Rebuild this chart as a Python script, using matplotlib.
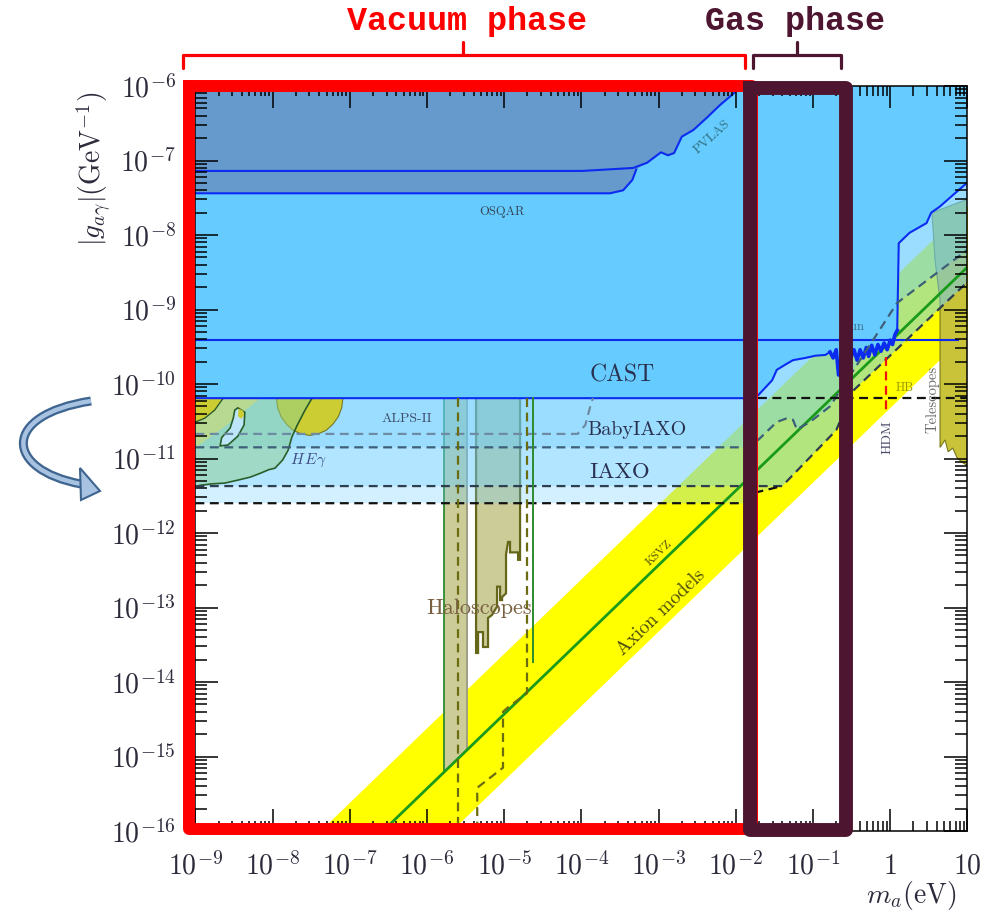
import numpy as np
import matplotlib
matplotlib.use("Agg")
import matplotlib.pyplot as plt
from matplotlib.path import Path
from matplotlib.patches import PathPatch, Polygon
from matplotlib.transforms import blended_transform_factory
from matplotlib.ticker import FixedLocator, FixedFormatter, LogLocator, NullFormatter

plt.rcParams["mathtext.fontset"] = "cm"

# every curve below is stored as log10(m_a / eV) and log10(|g| / GeV^-1)
x_ticks = [1e-9, 1e-8, 1e-7, 1e-6, 1e-5, 1e-4, 1e-3, 1e-2, 1e-1, 1, 10]
x_tick_labels = [r"$10^{-9}$", r"$10^{-8}$", r"$10^{-7}$", r"$10^{-6}$", r"$10^{-5}$",
                 r"$10^{-4}$", r"$10^{-3}$", r"$10^{-2}$", r"$10^{-1}$", r"$1$", r"$10$"]
y_ticks = [1e-16, 1e-15, 1e-14, 1e-13, 1e-12, 1e-11, 1e-10, 1e-9, 1e-8, 1e-7, 1e-6]
y_tick_labels = [r"$10^{-16}$", r"$10^{-15}$", r"$10^{-14}$", r"$10^{-13}$", r"$10^{-12}$",
                 r"$10^{-11}$", r"$10^{-10}$", r"$10^{-9}$", r"$10^{-8}$", r"$10^{-7}$",
                 r"$10^{-6}$"]

# light shining through walls
pvlas_lm = [-9.0, -3.99, -3.33, -3.15, -2.97, -2.88, -2.80, -2.70, -2.55, -2.37, -2.21, -2.04, -1.93]
pvlas_lg = [-7.14, -7.14, -7.10, -7.03, -6.89, -6.93, -6.90, -6.68, -6.59, -6.42, -6.26, -6.11, -6.0]
osqar_lm = [-9.0, -3.63, -3.46, -3.34, -3.29]
osqar_lg = [-7.44, -7.44, -7.40, -7.26, -7.12]

# CAST helioscope limit (vacuum + gas phase)
cast_lm = [-9.0, -1.88, -1.71, -1.62, -1.53, -1.47, -1.36, -1.26, -1.10, -0.97, -0.84, -0.78,
           -0.74, -0.70, -0.67, -0.62, -0.59, -0.55, -0.51, -0.47, -0.43, -0.39, -0.35, -0.31,
           -0.28, -0.24, -0.20, -0.16, -0.12, -0.08, -0.04, 0.0, 0.03, 0.06, 0.09, 0.11, 0.25,
           0.47, 0.53, 0.64, 0.86, 1.05]
cast_lg = [-10.19, -10.19, -10.15, -10.05, -9.95, -9.81, -9.74, -9.68, -9.65, -9.62, -9.61, -9.57,
           -9.65, -9.54, -9.88, -9.56, -9.68, -9.57, -9.65, -9.54, -9.68, -9.54, -9.65, -9.51,
           -9.63, -9.48, -9.61, -9.47, -9.56, -9.45, -9.54, -9.41, -9.47, -9.34, -9.28, -8.11,
           -7.97, -7.84, -7.70, -7.62, -7.42, -7.25]
sun_lm = [-9.0, 0.88]
sun_lg = [-9.41, -9.41]

# future helioscopes / ALPS-II sensitivity
alps_lm = [-9.0, -4.05, -3.95, -3.88, -3.85]
alps_lg = [-10.67, -10.67, -10.55, -10.28, -10.19]
babyiaxo_lm = [-9.0, -1.88, -1.71, -1.47, -1.34, -1.26, -1.21, -1.04, -0.78, 0.09, 1.05]
babyiaxo_lg = [-10.85, -10.85, -10.75, -10.51, -10.46, -10.48, -10.61, -10.51, -10.30, -8.91, -8.16]
iaxo_lm = [-9.0, -1.40, -0.70, -0.48, 1.05]
iaxo_lg = [-11.37, -11.37, -10.62, -10.09, -8.58]
iaxo_plus_lm = [-9.0, -1.88, -1.72, -1.40]
iaxo_plus_lg = [-11.60, -11.60, -11.45, -11.37]

# QCD axion band and KSVZ line
band_lm = [-9.0, 1.05]
band_upper_lg = [-17.61, -7.56]
band_lower_lg = [-19.31, -9.26]
ksvz_lm = [-9.0, 1.05]
ksvz_lg = [-18.43, -8.38]

# haloscopes
halo1_lm = [-5.78, -5.78, -5.48, -5.48]
halo1_lg = [-10.1, -15.21, -14.91, -10.1]
halo2_lm = [-5.365, -5.365, -5.339, -5.339, -5.275, -5.275, -5.21, -5.21, -5.158, -5.119, -5.093,
            -5.093, -5.054, -5.054, -5.028, -5.028, -4.977, -4.977, -4.951, -4.925, -4.925,
            -4.821, -4.821, -4.795, -4.795]
halo2_lg = [-10.1, -13.61, -13.61, -13.33, -13.33, -13.53, -13.53, -13.14, -13.10, -13.03, -12.99,
            -12.72, -12.72, -12.90, -12.90, -12.86, -12.81, -12.29, -12.12, -12.12, -12.26,
            -12.26, -12.36, -12.36, -10.1]
halo3_lm = [-4.63, -4.63]
halo3_lg = [-10.19, -13.73]
halo_dash1_lm = [-5.6, -5.6]
halo_dash1_lg = [-10.19, -16.0]
halo_dash2_lm = [-4.705, -4.705, -4.95, -5.016, -5.016, -5.35, -5.35]
halo_dash2_lg = [-10.19, -14.15, -14.34, -14.40, -15.15, -15.42, -16.0]

# astrophysics: HE gamma, telescopes, HB, HDM
hegamma_lm = [-7.45, -7.49, -7.58, -7.68, -7.75, -7.80, -7.87, -7.97, -8.05, -8.14, -8.29,
              -8.45, -8.62, -8.78, -8.94, -9.0, -9.0]
hegamma_lg = [-10.1, -10.19, -10.35, -10.55, -10.71, -10.89, -11.02, -11.13, -11.15, -11.19,
              -11.25, -11.29, -11.33, -11.34, -11.36, -11.34, -10.1]
hegreen_lm = [-8.16, -8.16, -8.29, -8.42, -8.58, -8.75, -8.90, -9.0, -9.0]
hegreen_lg = [-10.1, -10.19, -10.30, -10.40, -10.54, -10.67, -10.78, -10.85, -10.1]
heblob_lm = [-8.64, -8.64, -8.75, -8.88, -9.0, -9.0]
heblob_lg = [-10.1, -10.19, -10.35, -10.46, -10.51, -10.1]
heloop_lm = [-8.45, -8.36, -8.37, -8.45, -8.58, -8.68, -8.66, -8.55, -8.51, -8.49, -8.45]
heloop_lg = [-10.32, -10.38, -10.55, -10.70, -10.82, -10.83, -10.72, -10.59, -10.46, -10.35, -10.32]
hedot_lm = [-8.44, -8.38, -8.37, -8.41, -8.45]
hedot_lg = [-10.33, -10.36, -10.42, -10.47, -10.43]
hecircle_lm = [-7.95, -7.95, -7.935, -7.89, -7.82, -7.735, -7.63, -7.52, -7.41, -7.305, -7.22,
               -7.15, -7.105, -7.09, -7.09]
hecircle_lg = [-10.1, -10.19, -10.32, -10.44, -10.54, -10.62, -10.67, -10.69, -10.67, -10.62,
               -10.54, -10.44, -10.32, -10.19, -10.1]
telescope_lm = [0.54, 0.58, 0.645, 0.645, 0.71, 0.75, 0.81, 0.865, 0.93, 0.99, 1.05, 1.05]
telescope_lg = [-7.70, -8.34, -8.87, -10.85, -10.75, -10.91, -10.86, -10.99, -11.05, -11.09,
                -11.1, -7.5]
hb_lm = [-1.71, 1.05]
hb_lg = [-10.19, -10.19]
hdm_lm = [-0.054, -0.054]
hdm_lg = [-9.64, -10.35]

# phase boxes (mass range) and bracket ends
vacuum_box = [-9.08, -1.79]
gas_box = [-1.815, -0.573]
vacuum_bracket = [-9.16, -5.53, -1.88]
gas_bracket = [-1.78, -1.21, -0.64]

BLUE = "#0b2cf0"
LAYER = "#66ccff"


def lg10(lm, lg):
    return 10.0 ** np.asarray(lm, dtype=float), 10.0 ** np.asarray(lg, dtype=float)


def fill(lm, lg, **kw):
    x, y = lg10(lm, lg)
    ax.fill(x, y, **kw)


def line(lm, lg, **kw):
    x, y = lg10(lm, lg)
    ax.plot(x, y, **kw)


fig = plt.figure(figsize=(9.94, 9.15), dpi=100)
ax = fig.add_axes([0.1966, 0.0918, 0.7767, 0.8142])
ax.set_xscale("log")
ax.set_yscale("log")
ax.set_xlim(1e-9, 10)
ax.set_ylim(1e-16, 1e-6)

# axion band
bx, bu = lg10(band_lm, band_upper_lg)
_, bl = lg10(band_lm, band_lower_lg)
ax.fill_between(bx, bl, bu, color="#ffff00", lw=0, zorder=1)

# haloscopes and telescopes sit under the translucent prospects
fill(halo1_lm, halo1_lg, facecolor="#cccc99", edgecolor="none", zorder=1.2)
line(halo1_lm[:2], halo1_lg[:2], color="#2e8b2e", lw=1.3, zorder=1.3)
line(halo1_lm[2:], halo1_lg[2:], color="#9a9a80", lw=1.3, zorder=1.3)
fill(halo2_lm, halo2_lg, facecolor="#cccc99", edgecolor="#66661a", lw=1.6, zorder=1.2)
fill(telescope_lm, telescope_lg, facecolor="#c9c33a", edgecolor="#77771a", lw=0.8, zorder=1.2)

# IAXO, BabyIAXO, IAXO+ sensitivity layers
for lm, lg in [(babyiaxo_lm, babyiaxo_lg), (iaxo_lm, iaxo_lg),
               (iaxo_plus_lm + iaxo_lm[2:], iaxo_plus_lg + iaxo_lg[2:])]:
    fill(lm + [1.05, -9.0], lg + [-5.9, -5.9], facecolor=LAYER, alpha=0.29, lw=0, zorder=2)

# high-energy gamma hints
fill(hecircle_lm, hecircle_lg, facecolor="#cccc33", edgecolor="#77771f", lw=0.8, zorder=2.2)
fill(hegamma_lm, hegamma_lg, facecolor="#8fd08f", alpha=0.5, lw=0, zorder=2.3)
line(hegamma_lm[1:15], hegamma_lg[1:15], color="#2a5e2a", lw=1.2, zorder=2.4)
fill(hegreen_lm, hegreen_lg, facecolor="#c2da86", alpha=0.8, lw=0, zorder=2.35)
fill(heblob_lm, heblob_lg, facecolor="#cccc33", lw=0, zorder=2.4)
line(heblob_lm[1:5], heblob_lg[1:5], color="#2a5e2a", lw=1.0, zorder=2.45)
fill(heloop_lm, heloop_lg, facecolor="#bde6fa", edgecolor="#2a5e2a", lw=1.2, zorder=2.4)
fill(hedot_lm, hedot_lg, facecolor="#cccc33", lw=0, zorder=2.45)

line(ksvz_lm, ksvz_lg, color="#1a9a1a", lw=2.0, zorder=2.6)

# CAST and LSW exclusions
fill(cast_lm + [1.05, -9.0], cast_lg + [-5.9, -5.9], facecolor="#66ccff", lw=0, zorder=3)
fill(osqar_lm + pvlas_lm[3:] + [-1.93, -9.0], osqar_lg + pvlas_lg[3:] + [-5.9, -5.9],
     facecolor="#6699cc", lw=0, zorder=3.5)
line(cast_lm, cast_lg, color=BLUE, lw=1.5, zorder=4)
line(cast_lm[11:35], cast_lg[11:35], color=BLUE, lw=2.6, zorder=4)
line(sun_lm, sun_lg, color=BLUE, lw=1.5, zorder=4)
line(pvlas_lm, pvlas_lg, color=BLUE, lw=1.5, zorder=4)
line(osqar_lm, osqar_lg, color=BLUE, lw=1.5, zorder=4)

# dashed outlines
dash = dict(ls=(0, (4, 2.5)), lw=1.6, zorder=4)
line(alps_lm, alps_lg, color="#6d8ca3", **dash)
line(babyiaxo_lm, babyiaxo_lg, color="#3e5f78", **dash)
line(iaxo_lm, iaxo_lg, color="#2e3e4e", **dash)
line(iaxo_plus_lm, iaxo_plus_lg, color="#111111", **dash)
line(hb_lm, hb_lg, color="#111111", **dash)
line(hdm_lm, hdm_lg, color="#ee1111", **dash)
line(halo_dash1_lm, halo_dash1_lg, color="#6b6b10", **dash)
line(halo_dash2_lm, halo_dash2_lg, color="#6b6b10", **dash)
line(halo3_lm, halo3_lg, color="#2e8b2e", lw=1.4, zorder=4)

# labels
cm = dict(family="cmr10", ha="center", va="center", zorder=6)
ax.text(10**-3.47, 10**-9.89, "CAST", fontsize=17, color="#2a3050", **cm)
ax.text(10**-3.28, 10**-10.62, "BabyIAXO", fontsize=14.5, color="#2a3050", **cm)
ax.text(10**-3.50, 10**-11.19, "IAXO", fontsize=16.5, color="#2a3050", **cm)
ax.text(10**-5.03, 10**-7.69, "OSQAR", fontsize=9, color="#334455", **cm)
ax.text(10**-2.31, 10**-6.68, "PVLAS", fontsize=9.5, color="#2f6f80", rotation=42, **cm)
ax.text(10**-6.26, 10**-10.47, "ALPS-II", fontsize=10, color="#3d4f6a", **cm)
ax.text(10**-7.54, 10**-11.02, r"$H\,E\gamma$", fontsize=11, color="#3d4a80",
        ha="center", va="center", zorder=6)
ax.text(10**-5.33, 10**-13.01, "Haloscopes", fontsize=16, color="#7a6040", **cm)
ax.text(10**-3.0, 10**-12.27, "KSVZ", fontsize=8.5, color="#4a4a10", rotation=44, **cm)
ax.text(10**-2.97, 10**-13.06, "Axion models", fontsize=14, color="#4a4a10", rotation=44, **cm)
ax.text(10**-0.47, 10**-9.23, "Sun", fontsize=9, color="#3a6a80", **cm)
ax.text(10**0.19, 10**-10.05, "HB", fontsize=9, color="#999900", **cm)
ax.text(10**-0.04, 10**-10.71, "HDM", fontsize=10, color="#4a4a6a", rotation=90, **cm)
ax.text(10**0.54, 10**-10.21, "Telescopes", fontsize=10.5, color="#6a6a6a", rotation=90, **cm)

# axes styling
ax.xaxis.set_major_locator(FixedLocator(x_ticks))
ax.xaxis.set_major_formatter(FixedFormatter(x_tick_labels))
ax.yaxis.set_major_locator(FixedLocator(y_ticks))
ax.yaxis.set_major_formatter(FixedFormatter(y_tick_labels))
for axis in (ax.xaxis, ax.yaxis):
    axis.set_minor_locator(LogLocator(base=10, subs=np.arange(2, 10), numticks=100))
    axis.set_minor_formatter(NullFormatter())
    axis.set_zorder(8)
ax.tick_params(which="both", direction="in", top=True, right=True, width=1.1,
               color="black", labelcolor="#2b2b3b", labelsize=20)
ax.tick_params(axis="x", which="major", length=16, pad=15)
ax.tick_params(axis="x", which="minor", length=7)
ax.tick_params(axis="y", which="major", length=16.5, pad=14)
ax.tick_params(axis="y", which="minor", length=8.5)
for s in ax.spines.values():
    s.set_linewidth(1.1)
    s.set_zorder(8)

ax.set_ylabel(r"$|g_{a\gamma}|(\mathrm{GeV}^{-1})$", fontsize=20, color="#2b2b3b")
ax.yaxis.set_label_coords(-0.106, 0.889)
ax.set_xlabel(r"$m_a(\mathrm{eV})$", fontsize=20, color="#2b2b3b")
ax.xaxis.set_label_coords(0.927, -0.064)

# phase boxes, brackets and titles
tr = blended_transform_factory(ax.transData, ax.transAxes)
vx = [10**vacuum_box[0], 10**vacuum_box[1], 10**vacuum_box[1], 10**vacuum_box[0], 10**vacuum_box[0]]
ax.plot(vx, [1.0, 1.0, 0.003, 0.003, 1.0], transform=tr, color="#ff0000", lw=8.6,
        solid_joinstyle="round", clip_on=False, zorder=10)
gx = [10**gas_box[0], 10**gas_box[1], 10**gas_box[1], 10**gas_box[0], 10**gas_box[0]]
ax.plot(gx, [0.997, 0.997, 0.001, 0.001, 0.997], transform=tr, color="#4d1530", lw=10,
        solid_joinstyle="round", clip_on=False, zorder=11)

for br, col in [(vacuum_bracket, "#ff0000"), (gas_bracket, "#4d1530")]:
    left, mid, right = [10**v for v in br]
    ax.plot([left, left, right, right], [1.024, 1.0416, 1.0416, 1.024], transform=tr,
            color=col, lw=2.3, solid_joinstyle="round", solid_capstyle="round",
            clip_on=False, zorder=10)
    ax.plot([mid, mid], [1.0416, 1.059], transform=tr, color=col, lw=2.3,
            solid_capstyle="round", clip_on=False, zorder=10)

ax.text(10**-5.48, 1.086, "Vacuum phase", transform=tr, family="Liberation Mono",
        weight="bold", fontsize=24, color="#ff0000", ha="center", va="center")
ax.text(10**-1.23, 1.086, "Gas phase", transform=tr, family="Liberation Mono",
        weight="bold", fontsize=24, color="#4d1530", ha="center", va="center")

# curved arrow at the left margin (figure pixels from top-left)
W, H = 994.0, 915.0


def fpt(x, y):
    return (x / W, 1.0 - y / H)


shaft = Path([fpt(91, 401), fpt(0, 415), fpt(5, 470), fpt(81, 484)],
             [Path.MOVETO, Path.CURVE4, Path.CURVE4, Path.CURVE4])
fig.add_artist(PathPatch(shaft, transform=fig.transFigure, fill=False,
                         edgecolor="#3e6590", lw=6.5, capstyle="butt"))
fig.add_artist(PathPatch(shaft, transform=fig.transFigure, fill=False,
                         edgecolor="#a8c2e2", lw=3.2, capstyle="butt"))
fig.add_artist(Polygon([fpt(80, 468), fpt(100, 491), fpt(81, 500)], closed=True,
                       transform=fig.transFigure, facecolor="#a8c2e2",
                       edgecolor="#3e6590", lw=1.5))

fig.savefig("out.png", dpi=100)
